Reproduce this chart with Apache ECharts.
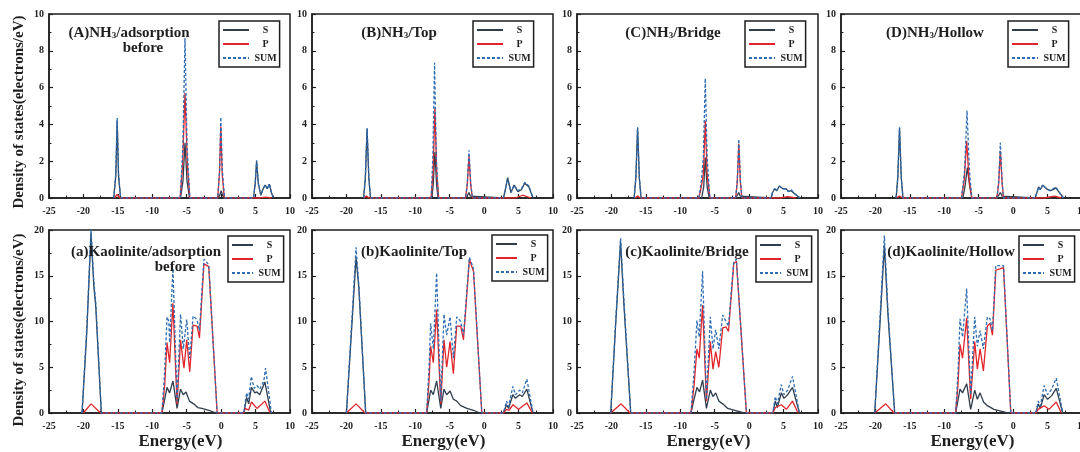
<!DOCTYPE html>
<html>
<head>
<meta charset="utf-8">
<title>Density of states</title>
<script src="https://cdn.jsdelivr.net/npm/echarts@6/dist/echarts.min.js"></script>
<style>body{margin:0;background:#fff}</style>
</head>
<body>
<div id="main" style="width:1080px;height:452px;"></div>
<script>
// energy axis ticks
var energyMin = -25, energyMax = 10, energyStep = 5;

// (A) NH3 before adsorption
var S_A = [[-15.6,0],[-15.3,1.2],[-15.1,4.2],[-14.9,1.2],[-14.6,0],[-5.9,0],[-5.55,0.9],[-5.25,3.0],[-4.95,0.9],[-4.6,0],[-0.5,0],[-0.2,0.15],[0,0.4],[0.2,0.15],[0.5,0],[4.7,0],[4.95,0.8],[5.15,2.0],[5.4,0.8],[5.75,0.15],[6.1,0.5],[6.4,0.7],[6.7,0.5],[7.0,0.75],[7.3,0.3],[7.6,0]];
var P_A = [[-15.5,0],[-15.1,0.2],[-14.7,0],[-5.95,0],[-5.6,1.8],[-5.25,5.7],[-4.9,1.8],[-4.55,0],[-0.5,0],[-0.25,1.3],[-0.05,3.9],[0.15,1.3],[0.45,0],[5.5,0],[6.5,0.05],[7.3,0]];
var SUM_A = [[-15.6,0],[-15.3,1.3],[-15.1,4.35],[-14.9,1.3],[-14.6,0],[-5.95,0],[-5.55,2.8],[-5.25,8.7],[-4.95,2.8],[-4.55,0],[-0.5,0],[-0.22,1.5],[-0.05,4.4],[0.18,1.5],[0.5,0],[4.7,0],[4.95,0.8],[5.15,2.05],[5.4,0.8],[5.75,0.15],[6.1,0.5],[6.4,0.72],[6.7,0.5],[7.0,0.78],[7.3,0.3],[7.6,0]];

// (B) NH3 / Top
var S_B = [[-17.5,0],[-17.25,1.1],[-17.0,3.75],[-16.75,1.1],[-16.5,0],[-7.6,0],[-7.4,0.7],[-7.15,2.5],[-6.9,0.7],[-6.7,0],[-2.6,0],[-2.4,0.1],[-2.2,0.3],[-2.0,0.1],[-1.8,0],[2.8,0],[3.1,0.5],[3.4,1.1],[3.9,0.3],[4.35,0.7],[4.9,0.35],[5.4,0.45],[5.9,0.8],[6.5,0.6],[7.1,0]];
var P_B = [[-17.5,0],[-17.1,0.1],[-16.7,0],[-7.7,0],[-7.4,1.5],[-7.15,4.9],[-6.9,1.5],[-6.6,0],[-2.7,0],[-2.45,0.7],[-2.2,2.3],[-1.95,0.7],[-1.7,0],[4.5,0],[5.6,0.15],[6.8,0]];
var SUM_B = [[-17.5,0],[-17.25,1.15],[-17.0,3.8],[-16.75,1.15],[-16.5,0],[-7.7,0],[-7.45,2.2],[-7.2,7.35],[-6.95,2.2],[-6.65,0],[-2.7,0],[-2.45,0.8],[-2.2,2.6],[-1.95,0.8],[-1.7,0],[2.8,0],[3.1,0.5],[3.4,1.1],[3.9,0.3],[4.35,0.7],[4.9,0.4],[5.4,0.5],[5.9,0.85],[6.5,0.65],[7.1,0]];

// (C) NH3 / Bridge
var S_C = [[-16.7,0],[-16.45,1.1],[-16.2,3.8],[-15.95,1.1],[-15.7,0],[-6.9,0],[-6.6,0.6],[-6.37,2.2],[-6.1,0.6],[-5.8,0],[-1.95,0],[-1.7,0.1],[-1.5,0.3],[-1.3,0.1],[-1.05,0],[3.2,0],[3.4,0.3],[3.7,0.5],[4.0,0.4],[4.4,0.65],[4.9,0.5],[5.4,0.5],[5.7,0.35],[6.1,0.4],[6.7,0.2],[7.4,0]];
var P_C = [[-16.6,0],[-16.2,0.1],[-15.8,0],[-7.3,0],[-6.95,0.6],[-6.65,1.3],[-6.37,4.2],[-6.1,1.3],[-5.7,0],[-1.95,0],[-1.72,0.9],[-1.5,2.95],[-1.28,0.9],[-1.05,0],[4.5,0],[5.6,0.08],[6.8,0]];
var SUM_C = [[-16.7,0],[-16.45,1.15],[-16.2,3.85],[-15.95,1.15],[-15.7,0],[-7.3,0],[-6.95,0.9],[-6.65,2.2],[-6.37,6.5],[-6.1,2.2],[-5.7,0],[-1.95,0],[-1.72,1.0],[-1.5,3.2],[-1.28,1.0],[-1.05,0],[3.2,0],[3.4,0.3],[3.7,0.5],[4.0,0.4],[4.4,0.65],[4.9,0.5],[5.4,0.5],[5.7,0.35],[6.1,0.45],[6.7,0.2],[7.4,0]];

// (D) NH3 / Hollow
var S_D = [[-17.0,0],[-16.75,1.1],[-16.5,3.8],[-16.25,1.1],[-16.0,0],[-7.3,0],[-7.0,0.6],[-6.65,1.65],[-6.3,0.6],[-6.0,0],[-2.35,0],[-2.1,0.1],[-1.86,0.3],[-1.6,0.1],[-1.4,0],[3.2,0],[3.45,0.3],[3.7,0.6],[3.95,0.45],[4.3,0.7],[4.85,0.5],[5.4,0.4],[5.8,0.45],[6.2,0.55],[6.7,0.3],[7.3,0]];
var P_D = [[-17.0,0],[-16.5,0.1],[-16.0,0],[-7.5,0],[-7.1,1.0],[-6.75,3.1],[-6.4,1.0],[-6.0,0],[-2.35,0],[-2.1,0.8],[-1.86,2.55],[-1.6,0.8],[-1.4,0],[4.5,0],[6.0,0.1],[7.0,0]];
var SUM_D = [[-17.0,0],[-16.75,1.15],[-16.5,3.85],[-16.25,1.15],[-16.0,0],[-7.5,0],[-7.05,1.5],[-6.7,4.75],[-6.35,1.5],[-6.0,0],[-2.35,0],[-2.1,0.9],[-1.86,3.0],[-1.6,0.9],[-1.4,0],[3.2,0],[3.45,0.3],[3.7,0.6],[3.95,0.45],[4.3,0.7],[4.85,0.5],[5.4,0.4],[5.8,0.5],[6.2,0.6],[6.7,0.3],[7.3,0]];

// (a) Kaolinite before adsorption
var S_a = [[-20.2,0],[-19.5,9],[-18.9,19.7],[-18.5,14],[-18.2,11.5],[-17.4,0],[-8.6,0],[-8.2,1.5],[-7.86,2.8],[-7.48,2.2],[-7.0,3.5],[-6.4,0.5],[-5.9,2.6],[-5.5,2.0],[-5.1,2.3],[-4.6,1.3],[-4.0,1.0],[-3.4,0.6],[-2.8,0.5],[-1.8,0.3],[-1.1,0.1],[-0.6,0],[3.3,0],[3.7,1.7],[4.0,1.0],[4.4,2.8],[4.9,2.2],[5.2,2.3],[5.6,2.0],[6.35,3.4],[7.2,0]];
var P_a = [[-20.0,0],[-18.9,1.0],[-17.5,0],[-8.6,0],[-8.2,3],[-7.86,7.7],[-7.48,5.5],[-7.0,12.0],[-6.4,1.0],[-5.9,8.0],[-5.4,4.9],[-5.0,8.0],[-4.56,4.5],[-4.08,9.6],[-3.5,9.5],[-3.15,8.2],[-2.5,16.3],[-1.8,16.0],[-1.55,15.8],[-0.58,0],[3.3,0],[3.5,0.5],[4.0,0.3],[4.4,1.2],[5.2,0.5],[6.35,1.3],[7.1,0]];
var SUM_a = [[-20.2,0],[-19.5,9.5],[-18.9,20.0],[-18.5,14.5],[-18.2,12],[-17.4,0],[-8.6,0],[-8.2,4.5],[-7.86,10.5],[-7.6,10.0],[-7.48,7.7],[-7.0,15.8],[-6.4,1.3],[-5.9,10.8],[-5.5,7.0],[-5.0,10.2],[-4.56,6.0],[-4.08,10.6],[-3.5,10.2],[-3.15,9.0],[-2.5,16.8],[-1.8,16.2],[-1.55,16.0],[-0.58,0],[3.3,0],[3.7,2.2],[4.0,1.5],[4.37,4.0],[4.8,2.7],[5.2,3.0],[5.6,2.6],[6.2,3.5],[6.45,4.9],[7.3,0]];

// (b) Kaolinite / Top
var S_b = [[-20.0,0],[-19.3,8.5],[-18.6,17.0],[-18.2,13.7],[-17.2,0],[-8.35,0],[-8.0,1.5],[-7.77,2.5],[-7.38,2.0],[-6.9,3.5],[-6.3,0.5],[-5.83,2.6],[-5.44,2.0],[-4.95,2.4],[-4.47,1.5],[-3.98,1.3],[-3.4,0.8],[-2.5,0.5],[-1.55,0.3],[-0.6,0],[2.8,0],[3.25,0.9],[3.55,0.5],[4.17,2.0],[4.55,1.6],[5.15,2.0],[5.55,1.8],[6.2,2.6],[7.1,0]];
var P_b = [[-20.0,0],[-18.6,1.0],[-17.3,0],[-8.35,0],[-8.0,3.5],[-7.77,7.3],[-7.38,5.5],[-6.9,11.3],[-6.3,1.0],[-5.83,8.0],[-5.44,5.0],[-4.95,7.8],[-4.47,4.3],[-3.98,9.5],[-3.4,9.5],[-3.0,8.0],[-2.14,16.8],[-1.55,15.5],[-0.34,0],[2.8,0],[3.25,0.4],[3.6,0.3],[4.2,0.9],[5.0,0.4],[6.2,1.1],[7.0,0]];
var SUM_b = [[-20.0,0],[-19.3,9],[-18.6,18.1],[-18.2,14],[-17.2,0],[-8.35,0],[-8.0,5],[-7.77,9.8],[-7.38,7.0],[-6.9,15.3],[-6.3,1.3],[-5.83,10.8],[-5.44,8.5],[-4.95,10.5],[-4.47,6.0],[-3.98,10.5],[-3.4,10.0],[-3.0,8.5],[-2.14,17.0],[-1.55,15.8],[-0.34,0],[2.8,0],[3.25,1.3],[3.55,0.7],[4.17,2.9],[4.55,2.0],[5.15,2.5],[5.55,2.2],[6.2,3.7],[7.1,0]];

// (c) Kaolinite / Bridge
var S_c = [[-20.1,0],[-19.4,9.5],[-18.67,18.7],[-18.2,12],[-17.2,0],[-8.45,0],[-8.0,1.5],[-7.58,2.8],[-7.2,2.3],[-6.76,3.6],[-6.2,0.5],[-5.64,2.5],[-5.25,1.8],[-4.86,2.2],[-4.4,1.3],[-3.84,1.0],[-3.1,0.5],[-2.1,0.3],[-0.7,0],[3.45,0],[3.8,1.3],[4.1,0.6],[4.67,2.2],[5.05,1.6],[5.6,2.0],[6.3,2.8],[7.3,0]];
var P_c = [[-20.1,0],[-18.6,1.0],[-17.3,0],[-8.45,0],[-8.0,3.0],[-7.58,7.0],[-7.25,6.0],[-6.76,11.8],[-6.2,1.3],[-5.64,7.8],[-5.25,4.8],[-4.86,6.7],[-4.4,5.0],[-3.84,9.3],[-3.35,9.4],[-3.0,8.9],[-2.24,16.3],[-1.85,16.6],[-0.4,0],[3.45,0],[3.8,0.6],[4.67,0.9],[5.4,0.4],[6.3,1.3],[7.1,0]];
var SUM_c = [[-20.1,0],[-19.4,9.8],[-18.67,19.1],[-18.2,12.5],[-17.2,0],[-8.45,0],[-8.0,4.5],[-7.58,10.1],[-7.25,8.3],[-6.76,15.5],[-6.2,1.5],[-5.64,10.5],[-5.25,7.0],[-4.86,9.1],[-4.4,7.0],[-3.84,10.7],[-3.35,10.0],[-3.0,9.5],[-2.24,16.5],[-1.85,16.8],[-0.4,0],[3.45,0],[3.8,1.8],[4.1,1.0],[4.67,3.1],[5.05,2.0],[5.6,2.5],[6.3,4.0],[7.3,0]];

// (d) Kaolinite / Hollow
var S_d = [[-20.1,0],[-19.4,9],[-18.7,18.3],[-18.2,11],[-17.2,0],[-8.35,0],[-8.0,1.4],[-7.72,2.6],[-7.35,2.2],[-6.75,3.2],[-6.17,0.4],[-5.58,2.5],[-5.2,1.5],[-4.8,2.2],[-4.3,1.2],[-3.74,0.8],[-2.8,0.4],[-1.8,0.2],[-0.8,0],[3.3,0],[3.64,1.0],[3.95,0.5],[4.5,2.0],[5.0,1.5],[5.6,1.9],[6.26,2.7],[7.2,0]];
var P_d = [[-20.1,0],[-18.5,1.0],[-17.3,0],[-8.35,0],[-8.0,3.2],[-7.72,7.5],[-7.35,6.0],[-6.75,10.4],[-6.17,1.5],[-5.58,7.8],[-5.2,4.8],[-4.8,7.0],[-4.32,4.6],[-3.74,9.5],[-3.35,9.8],[-3.0,8.5],[-2.52,15.6],[-1.4,15.9],[-0.34,0],[3.3,0],[3.64,0.4],[4.5,0.8],[5.2,0.4],[6.26,1.2],[7.0,0]];
var SUM_d = [[-20.1,0],[-19.4,9.5],[-18.7,19.4],[-18.2,11.5],[-17.2,0],[-8.35,0],[-8.0,4.5],[-7.72,10.3],[-7.35,8.3],[-6.75,13.6],[-6.17,2.0],[-5.58,10.5],[-5.2,7.3],[-4.8,9.0],[-4.32,7.0],[-3.74,10.5],[-3.35,10.3],[-3.0,9.0],[-2.52,16.1],[-1.4,16.1],[-0.34,0],[3.3,0],[3.64,1.3],[3.95,0.8],[4.5,3.0],[5.0,2.0],[5.6,2.6],[6.26,3.8],[7.2,0]];

var seriesNames = ['S', 'P', 'SUM'];
var panelTitles = [
	['(A)NH{s|3}/adsorption', 'before'], ['(B)NH{s|3}/Top'], ['(C)NH{s|3}/Bridge'], ['(D)NH{s|3}/Hollow'],
	['(a)Kaolinite/adsorption', 'before'], ['(b)Kaolinite/Top'], ['(c)Kaolinite/Bridge'], ['(d)Kaolinite/Hollow']
];
var panelData = [
	[S_A, P_A, SUM_A], [S_B, P_B, SUM_B], [S_C, P_C, SUM_C], [S_D, P_D, SUM_D],
	[S_a, P_a, SUM_a], [S_b, P_b, SUM_b], [S_c, P_c, SUM_c], [S_d, P_d, SUM_d]
];
var yMax = [10, 20];
var yStep = [2, 5];

var FONT = '"Liberation Serif", "Times New Roman", serif';
var INK = '#1e1e1e';
var colors = ['#2f3d4d', '#e2252b', '#2c6db3'];

// layout
var gridLefts = [49, 312, 577, 841];
var gridTops = [14, 230];
var gridW = 241, gridH = [184, 183];
var legendPos = [[219, 21], [473, 21], [745, 21], [1008, 21], [228, 236], [492, 235], [756, 236], [1019, 236]];
var legendIconW = [26, 21];
var titlePos = [[129, 33], [399, 33], [673, 33], [935, 33], [146, 252], [414, 252], [687, 252], [951, 252]];

var myChart = echarts.init(document.getElementById('main'), null, {renderer: 'canvas'});

var grids = [], xAxes = [], yAxes = [], series = [], legends = [], graphics = [];

for (var i = 0; i < 8; i++) {
	var row = i < 4 ? 0 : 1;
	var col = i % 4;
	grids.push({
		left: gridLefts[col], top: gridTops[row], width: gridW, height: gridH[row],
		outerBoundsMode: 'none', containLabel: false,
		show: true, borderColor: INK, borderWidth: 1.5, backgroundColor: 'transparent'
	});
	xAxes.push({
		gridIndex: i, type: 'value', min: energyMin, max: energyMax, interval: energyStep,
		axisLine: {onZero: false, lineStyle: {color: INK, width: 1.5}},
		axisTick: {inside: true, length: 4, lineStyle: {color: INK, width: 1.2}},
		minorTick: {show: true, splitNumber: 2, length: 2.5, lineStyle: {color: INK, width: 1}},
		splitLine: {show: false},
		axisLabel: {fontFamily: FONT, fontWeight: 'bold', fontSize: 10, color: INK, margin: 8}
	});
	yAxes.push({
		gridIndex: i, type: 'value', min: 0, max: yMax[row], interval: yStep[row],
		axisLine: {onZero: false, lineStyle: {color: INK, width: 1.5}},
		axisTick: {inside: true, length: 4, lineStyle: {color: INK, width: 1.2}},
		minorTick: {show: true, splitNumber: 2, length: 2.5, lineStyle: {color: INK, width: 1}},
		splitLine: {show: false},
		axisLabel: {fontFamily: FONT, fontWeight: 'bold', fontSize: 10, color: INK, margin: 5}
	});
	for (var k = 0; k < 3; k++) {
		series.push({
			type: 'line', name: seriesNames[k], xAxisIndex: i, yAxisIndex: i,
			data: panelData[i][k], symbol: 'none', showSymbol: false,
			lineStyle: {color: colors[k], width: 1.3, type: k === 2 ? [3, 2] : 'solid'},
			itemStyle: {color: colors[k]},
			z: 2 + k
		});
	}
	legends.push({
		show: true, data: seriesNames, orient: 'vertical', left: legendPos[i][0], top: legendPos[i][1],
		selectedMode: false, borderColor: INK, borderWidth: 1.5, borderRadius: 0,
		padding: [4, 3, 4, 3], itemGap: 4, itemWidth: legendIconW[row], itemHeight: 10, itemTextGap: 3,
		itemStyle: {opacity: 0},
		formatter: function (n) { return '{c|' + n + '}'; },
		textStyle: {
			fontFamily: FONT, fontWeight: 'bold', fontSize: 10, color: INK,
			rich: {c: {fontFamily: FONT, fontWeight: 'bold', fontSize: 10, color: INK, width: 23, align: 'center'}}
		}
	});
	var t = panelTitles[i];
	graphics.push({
		type: 'text', x: titlePos[i][0], y: titlePos[i][1], z: 10,
		style: {
			text: t[0], fill: INK, font: 'bold 15px ' + FONT, align: 'center', verticalAlign: 'middle',
			rich: {s: {font: 'bold 9px ' + FONT, fill: INK, verticalAlign: 'bottom', padding: [6, 0, 0, 0]}}
		}
	});
	if (t[1]) {
		graphics.push({
			type: 'text', x: titlePos[i][0] + (row === 0 ? 14 : 29), y: titlePos[i][1] + 15, z: 10,
			style: {text: t[1], fill: INK, font: 'bold 15px ' + FONT, align: 'center', verticalAlign: 'middle'}
		});
	}
	if (row === 1) {
		graphics.push({
			type: 'text', x: gridLefts[col] + gridW / 2 + 11, y: 442,
			style: {text: 'Energy(eV)', fill: INK, font: 'bold 17px ' + FONT, align: 'center', verticalAlign: 'middle'}
		});
	}
}

// y-axis titles
graphics.push({
	type: 'text', x: 19, y: 112, rotation: Math.PI / 2,
	style: {text: 'Density of states(electrons/eV)', fill: INK, font: 'bold 15px ' + FONT, align: 'center', verticalAlign: 'middle'}
});
graphics.push({
	type: 'text', x: 19, y: 330, rotation: Math.PI / 2,
	style: {text: 'Density of states(electrons/eV)', fill: INK, font: 'bold 15px ' + FONT, align: 'center', verticalAlign: 'middle'}
});

var option = {
	animation: false,
	backgroundColor: '#fff',
	grid: grids,
	xAxis: xAxes,
	yAxis: yAxes,
	legend: legends,
	series: series,
	graphic: graphics
};

myChart.setOption(option);
</script>
</body>
</html>
